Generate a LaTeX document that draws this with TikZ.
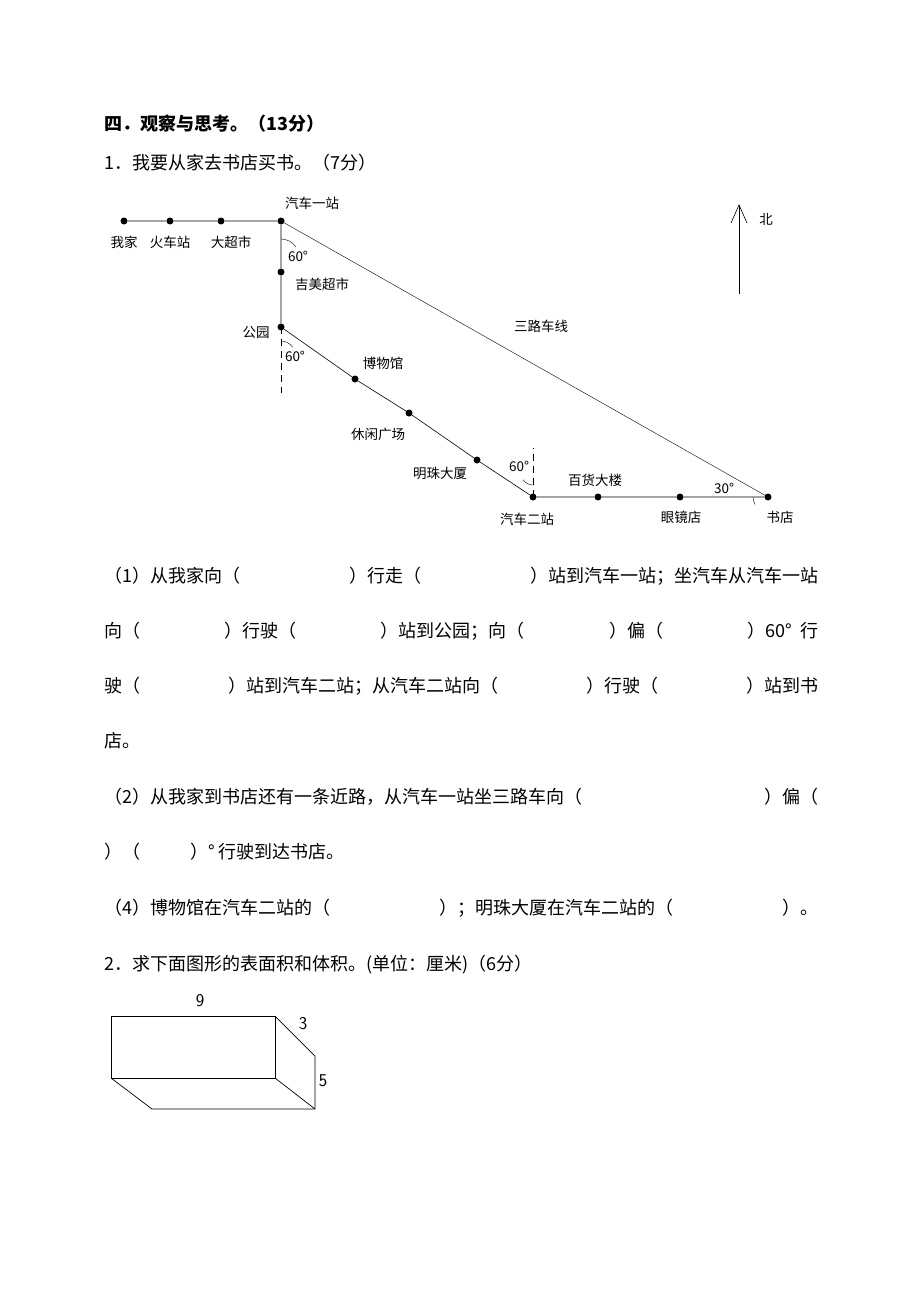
\documentclass[tikz,border=0pt]{standalone}
\usepackage{fontspec}
\setmainfont{Liberation Serif}
\newfontfamily\cjk{Noto Sans CJK SC}
\usetikzlibrary{arrows.meta}
\begin{document}
\begin{tikzpicture}[x=1pt,y=-1pt,
  dot/.style={circle,fill=black,inner sep=0pt,minimum size=7pt},
  lab/.style={font=\cjk\fontsize{13.5}{15}\selectfont,inner sep=0pt},
  body/.style={font=\cjk\fontsize{18}{20}\selectfont,anchor=west,inner sep=0pt},
  num/.style={font=\fontsize{18}{20}\selectfont\sffamily,inner sep=0pt},
  road/.style={line width=0.6pt}]
\useasboundingbox (0,0) rectangle (920,1300);
\fill[white] (0,0) rectangle (920,1300);
% text
\node[body,font=\cjk\bfseries\fontsize{18}{20}\selectfont] (t0) at (104,124) {四．观察与思考。（13分）};
\node[body] (t1) at (104,163) {1．我要从家去书店买书。（7分）};
\node[body] (p1) at (104,576) {\makebox[714pt][s]{（1）从我家向（\hfill）行走（\hfill）站到汽车一站；坐汽车从汽车一站}};
\node[body] (p2) at (104,631) {\makebox[714pt][s]{向（\hfill）行驶（\hfill）站到公园；向（\hfill）偏（\hfill）60°\hspace{8pt}行}};
\node[body] (p3) at (104,686) {\makebox[714pt][s]{驶（\hfill）站到汽车二站；从汽车二站向（\hfill）行驶（\hfill）站到书}};
\node[body] (p4) at (104,741) {店。};
\node[body] (p5) at (104,797) {\makebox[714pt][s]{（2）从我家到书店还有一条近路，从汽车一站坐三路车向（\hfill）偏（}};
\node[body] (p6) at (104,852) {）（\hspace{50pt}）°\hspace{4pt}行驶到达书店。};
\node[body] (p7) at (104,908) {\makebox[714pt][s]{（4）博物馆在汽车二站的（\hfill）；明珠大厦在汽车二站的（\hfill）。}};
\node[body] (t2) at (104,965) {2．求下面图形的表面积和体积。(单位：厘米)（6分）};
% map nodes
\node[dot] (wj) at (124,221) {};
\node[dot] (hc) at (170,221) {};
\node[dot] (dc) at (221,221) {};
\node[dot] (s1) at (281,221) {};
\node[dot] (jm) at (281,272) {};
\node[dot] (gy) at (281,327) {};
\node[dot] (bw) at (355,379) {};
\node[dot] (xx) at (409,413) {};
\node[dot] (mz) at (477,460) {};
\node[dot] (s2) at (533,497) {};
\node[dot] (bh) at (598,497) {};
\node[dot] (yj) at (680,497) {};
\node[dot] (sd) at (768,497) {};
\draw[road] (wj)--(hc)--(dc)--(s1)--(jm)--(gy)--(bw)--(xx)--(mz)--(s2)--(bh)--(yj)--(sd);
\draw[line width=0.4pt] (s1.center)--(sd.center);
\coordinate (gd) at (281,393);
\coordinate (s2d) at (533,448);
\draw[dashed,dash pattern=on 7pt off 5pt] (gy.center)--(gd);
\draw[dashed,dash pattern=on 7pt off 5pt] (s2.center)--(s2d);
% angle arcs
\draw[line width=0.4pt] (281,239) arc[start angle=270,end angle=326,radius=18];
\draw[line width=0.4pt] (281,341) arc[start angle=270,end angle=326,radius=14];
\draw[line width=0.4pt] (533,485) arc[start angle=90,end angle=146,radius=12];
\draw[line width=0.4pt] (753,497) arc[start angle=180,end angle=150,radius=15];
% labels
\node[lab] (lwj) at (124,242) {我家};
\node[lab] (lhc) at (170,242) {火车站};
\node[lab] (ldc) at (231,242) {大超市};
\node[lab] (ls1) at (312,203) {汽车一站};
\node[lab] (la1) at (298,256) {60°};
\node[lab] (ljm) at (322,284) {吉美超市};
\node[lab] (lgy) at (256,333) {公园};
\node[lab] (la2) at (295,356) {60°};
\node[lab] (lbw) at (383,363) {博物馆};
\node[lab] (lxx) at (378,434) {休闲广场};
\node[lab] (lmz) at (440,473) {明珠大厦};
\node[lab] (la3) at (519,466) {60°};
\node[lab] (lbh) at (595,480) {百货大楼};
\node[lab] (lyj) at (681,517) {眼镜店};
\node[lab] (lsd) at (780,517) {书店};
\node[lab] (ls2) at (527,519) {汽车二站};
\node[lab] (la4) at (724,488) {30°};
\node[lab] (l3) at (541,326) {三路车线};
\node[lab] (lb) at (766,219) {北};
\coordinate (nb) at (739,294);
\coordinate (nt) at (739,205);
\draw[line width=0.7pt] (nb)--(nt);
\draw[line width=0.6pt] (731,223)--(nt)--(747,223);
% box
\coordinate (a) at (111,1016); \coordinate (b) at (275,1016);
\coordinate (c) at (275,1078); \coordinate (d) at (111,1078);
\coordinate (e) at (315,1056); \coordinate (f) at (315,1109);
\coordinate (g) at (152,1109);
\draw[line width=0.7pt] (a)--(b)--(c)--(d)--cycle;
\draw[line width=0.7pt] (b)--(e)--(f)--(g)--(d);
\draw[line width=0.7pt] (c)--(f);
\node[num] (n9) at (200,1001) {9};
\node[num] (n3) at (303,1024) {3};
\node[num] (n5) at (323,1081) {5};
\end{tikzpicture}
\end{document}
